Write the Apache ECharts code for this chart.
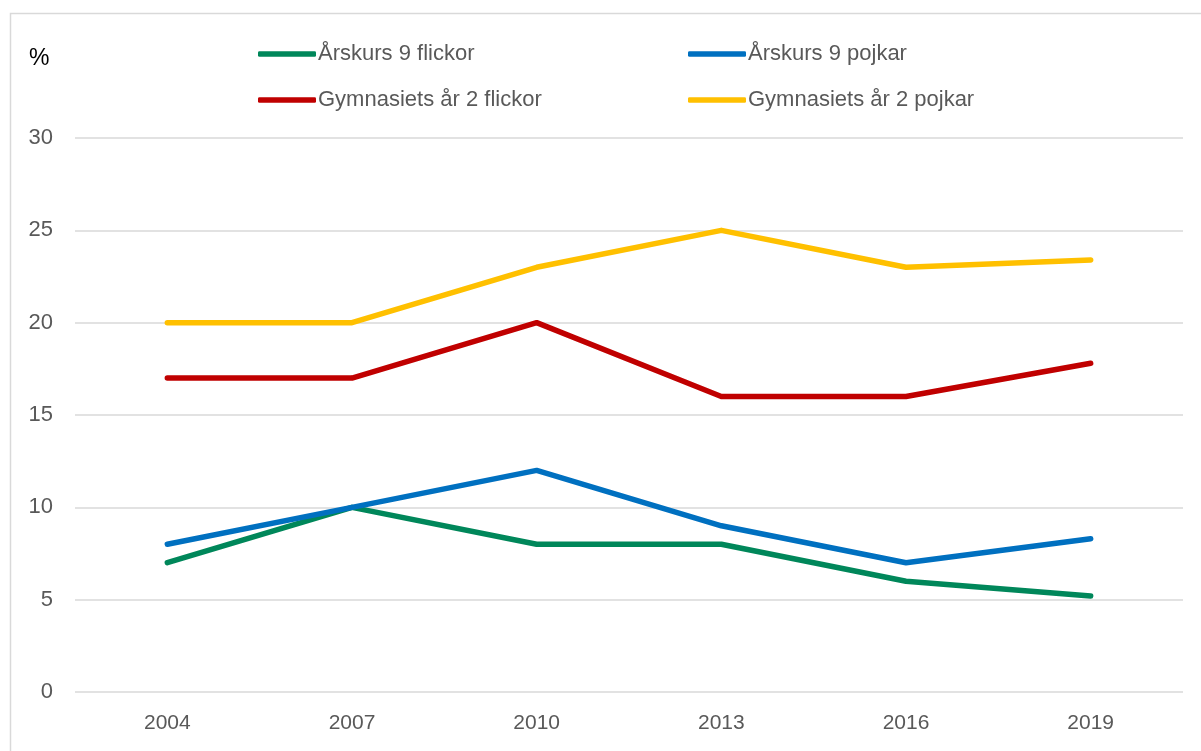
<!DOCTYPE html>
<html><head><meta charset="utf-8">
<script src="https://cdn.jsdelivr.net/npm/echarts@6/dist/echarts.min.js"></script>
<style>html,body{margin:0;padding:0;background:#fff;}#c{width:1201px;height:751px;}</style>
</head><body><div id="c"></div>
<script>
const years = ['2004','2007','2010','2013','2016','2019'];
const seriesNames = ['Årskurs 9 flickor','Årskurs 9 pojkar','Gymnasiets år 2 flickor','Gymnasiets år 2 pojkar'];
const ak9Flickor = [7, 10, 8, 8, 6, 5.2];
const ak9Pojkar = [8, 10, 12, 9, 7, 8.3];
const gy2Flickor = [17, 17, 20, 16, 16, 17.8];
const gy2Pojkar = [20, 20, 23, 25, 23, 23.4];
const colors = ['#00875a', '#0070c0', '#c00000', '#ffc000'];
const values = [ak9Flickor, ak9Pojkar, gy2Flickor, gy2Pojkar];

const FONT = '"Liberation Sans", Arial, sans-serif';
const chart = echarts.init(document.getElementById('c'), null, {renderer: 'canvas'});
const legendPos = [[258, 43], [688, 43], [258, 89], [688, 89]];
chart.setOption({
  animation: false,
  backgroundColor: '#fff',
  graphic: [{
    type: 'rect', shape: {x: 10.5, y: 13.5, width: 1200, height: 760},
    style: {fill: 'none', stroke: '#d9d9d9', lineWidth: 1.5}, silent: true
  }],
  title: {text: '%', left: 29, top: 47, padding: 0, textStyle: {fontFamily: FONT, fontSize: 23, fontWeight: 'normal', color: '#000'}},
  legend: seriesNames.map((n, i) => ({
    data: [n], left: legendPos[i][0], top: legendPos[i][1],
    icon: 'roundRect', itemWidth: 58, itemHeight: 5.5, itemGap: 0,
    textStyle: {fontFamily: FONT, fontSize: 22, color: '#595959', padding: [0, 0, 0, -3]},
    padding: 0
  })),
  grid: {left: 75, right: 18, top: 138, bottom: 59, containLabel: false},
  xAxis: {
    type: 'category', data: years, boundaryGap: true,
    axisLine: {show: false}, axisTick: {show: false},
    axisLabel: {fontFamily: FONT, fontSize: 21, color: '#595959', margin: 21}
  },
  yAxis: {
    type: 'value', min: 0, max: 30, interval: 5,
    axisLine: {show: false}, axisTick: {show: false},
    splitLine: {lineStyle: {color: '#d9d9d9', width: 1.5}},
    axisLabel: {fontFamily: FONT, fontSize: 22, color: '#595959', margin: 22}
  },
  series: seriesNames.map((n, i) => ({
    name: n, type: 'line', data: values[i], showSymbol: false, symbol: 'none',
    color: colors[i],
    lineStyle: {color: colors[i], width: 5.5, cap: 'round', join: 'round'}
  }))
});
</script></body></html>
